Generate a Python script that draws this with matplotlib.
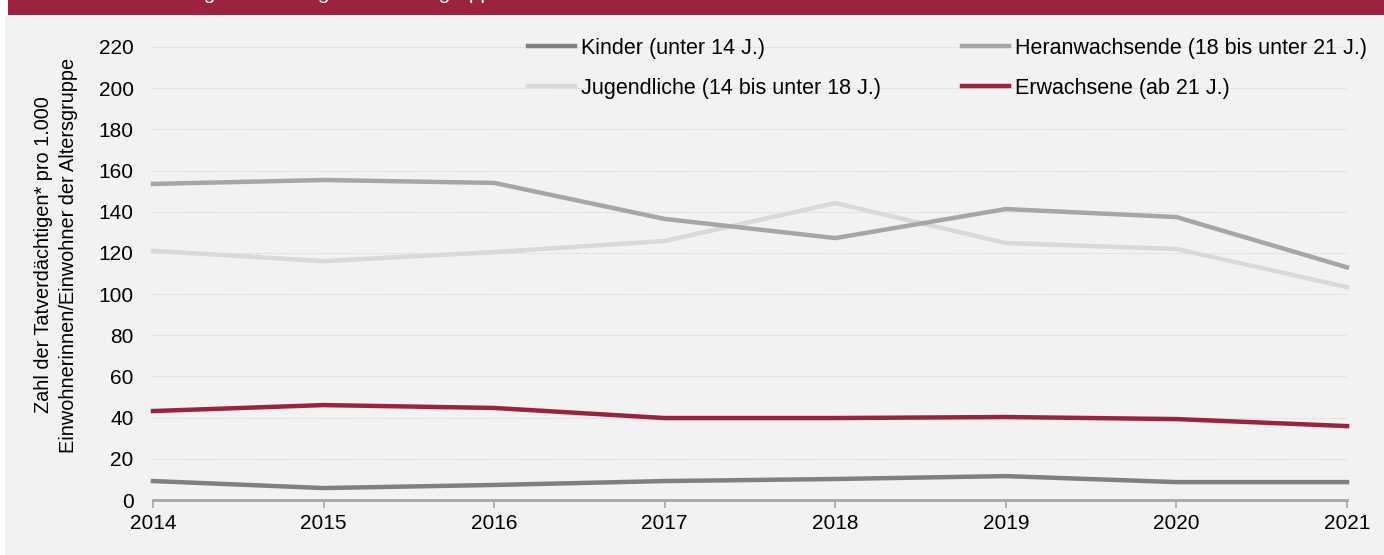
import matplotlib
matplotlib.use("Agg")
import matplotlib.pyplot as plt
from matplotlib.patches import Rectangle

years = [2014, 2015, 2016, 2017, 2018, 2019, 2020, 2021]
kinder = [9.2, 5.8, 7.3, 9.2, 10.2, 11.6, 8.7, 8.7]
jugendliche = [121.0, 116.0, 120.4, 125.8, 144.2, 124.8, 121.9, 103.4]
heranwachsende = [153.5, 155.4, 154.0, 136.5, 127.2, 141.3, 137.4, 113.0]
erwachsene = [43.2, 46.1, 44.7, 39.8, 39.8, 40.3, 39.3, 35.9]
yticks = list(range(0, 221, 20))
title = "Abb. 2: Tatverdächtigenbelastung nach Altersgruppen"
ylabel = "Zahl der Tatverdächtigen* pro 1.000\nEinwohnerinnen/Einwohner der Altersgruppe"

plt.rcParams['font.family'] = ['Liberation Sans', 'DejaVu Sans']

W, H = 1384, 555
fig = plt.figure(figsize=(W / 100, H / 100), dpi=100)
fig.patch.set_facecolor('white')
# panel background
fig.add_artist(Rectangle((5 / W, 0), 1 - 5 / W, 1 - 16 / H, transform=fig.transFigure,
                         facecolor='#f2f2f2', edgecolor='none', zorder=-10))
# header band
fig.add_artist(Rectangle((8 / W, 1 - 15 / H), 1 - 8 / W, 15 / H, transform=fig.transFigure,
                         facecolor='#9b2340', edgecolor='none', zorder=-9))
fig.text(20 / W, 1 + 1 / H, title, color='white', fontsize=15, va='baseline', ha='left')

ax = fig.add_axes([153 / W, 1 - 500 / H, (1347 - 153) / W, (500 - 47) / H])
ax.set_facecolor('none')

lw = 3.2
l1, = ax.plot(years, kinder, color='#808080', lw=lw, label='Kinder (unter 14 J.)', clip_on=False, zorder=5)
l2, = ax.plot(years, jugendliche, color='#d9d9d9', lw=lw, label='Jugendliche (14 bis unter 18 J.)', clip_on=False, zorder=3)
l3, = ax.plot(years, heranwachsende, color='#a6a6a6', lw=lw, label='Heranwachsende (18 bis unter 21 J.)', clip_on=False, zorder=4)
l4, = ax.plot(years, erwachsene, color='#9b2340', lw=lw, label='Erwachsene (ab 21 J.)', clip_on=False, zorder=6)

ax.set_xlim(years[0], years[-1])
ax.set_ylim(0, 220)
ax.set_yticks(yticks)
ax.set_xticks(years)
ax.set_xticklabels([str(y) for y in years])
ax.grid(axis='y', color='#d0d0d0', linestyle=(0, (1, 1.5)), linewidth=0.8)
ax.grid(axis='x', visible=False)
ax.set_axisbelow(True)
for s in ['top', 'right', 'left']:
    ax.spines[s].set_visible(False)
ax.spines['bottom'].set_color('#a6a6a6')
ax.spines['bottom'].set_linewidth(2)
ax.tick_params(axis='y', length=0, pad=14, labelsize=15, colors='black')
ax.tick_params(axis='x', length=6, width=1.2, color='#a6a6a6', pad=4, labelsize=15)
for t in ax.get_yticklabels() + ax.get_xticklabels():
    t.set_color('black')

fig.text(56 / W, 1 - 255 / H, ylabel, rotation=90, ha='center', va='center',
         fontsize=14.3, multialignment='center', linespacing=1.4)

legkw = dict(loc='upper left', frameon=False, fontsize=15.5, handlelength=2.2,
             handletextpad=0.25, labelspacing=0.88, borderaxespad=0, borderpad=0)
leg1 = fig.legend([l1, l2], [l1.get_label(), l2.get_label()],
                  bbox_to_anchor=(528 / W, 1 - 38 / H), **legkw)
leg2 = fig.legend([l3, l4], [l3.get_label(), l4.get_label()],
                  bbox_to_anchor=(962 / W, 1 - 38 / H), **legkw)
for leg in (leg1, leg2):
    for l in leg.get_lines():
        l.set_linewidth(3.2)

fig.savefig('out.png', dpi=100, facecolor=fig.get_facecolor())
